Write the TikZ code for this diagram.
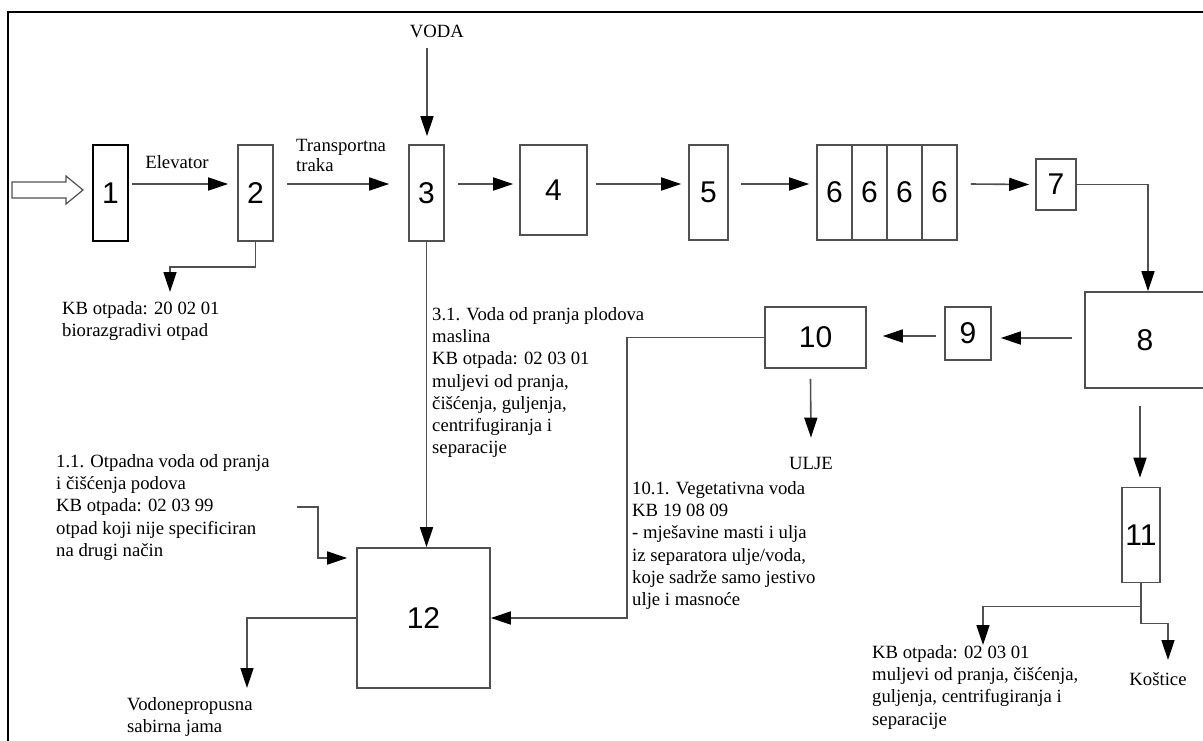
\documentclass[tikz,border=0pt]{standalone}
\usepackage{fontspec}
\setmainfont{Liberation Serif}
\newfontfamily\numfont{Liberation Sans}
\usetikzlibrary{arrows.meta}
\definecolor{linegray}{RGB}{80,80,80}
\begin{document}
\begin{tikzpicture}[x=1pt,y=-1pt,
  box/.style={draw=linegray, line width=1.6pt, inner sep=0pt, font=\numfont\fontsize{30}{32}\selectfont},
  con/.style={draw=linegray, line width=1.6pt, -{Triangle[length=20pt,width=13pt,color=black]}},
  txt/.style={inner sep=0pt, font=\fontsize{18.7}{22.3}\selectfont},
  lbl/.style={txt, align=left, anchor=north west},
]
\useasboundingbox (0,0) rectangle (1203,740);
% frame
\draw[line width=2.6pt] (8,760) -- (8,12) -- (1215,12);

% boxes
\node[box, draw=black, line width=2.2pt, minimum width=35pt, minimum height=96pt] (b1) at (110.5,193) {1};
\node[box, minimum width=35pt, minimum height=96pt] (b2) at (255.5,193) {2};
\node[box, minimum width=35pt, minimum height=96pt] (b3) at (426.5,193) {3};
\node[box, minimum width=67pt, minimum height=90pt] (b4) at (553.5,190) {4};
\node[box, minimum width=39pt, minimum height=95pt] (b5) at (708.5,192.5) {5};
\node[box, minimum width=35pt, minimum height=95pt] (b6a) at (834.5,192.5) {6};
\node[box, minimum width=35pt, minimum height=95pt] (b6b) at (869.5,192.5) {6};
\node[box, minimum width=35pt, minimum height=95pt] (b6c) at (904.5,192.5) {6};
\node[box, minimum width=35pt, minimum height=95pt] (b6d) at (939.5,192.5) {6};
\node[box, minimum width=40pt, minimum height=51pt] (b7) at (1056,184.5) {7};
\node[box, minimum width=120pt, minimum height=96pt] (b8) at (1145,340) {8};
\node[box, minimum width=46pt, minimum height=53pt] (b9) at (968,333.5) {9};
\node[box, minimum width=101pt, minimum height=61pt] (b10) at (815.5,337.5) {10};
\node[box, minimum width=38pt, minimum height=95pt] (b11) at (1141,535) {11};
\node[box, minimum width=133pt, minimum height=140pt] (b12) at (423.5,618) {12};

% texts
\node[txt] (voda) at (437,31) {VODA};
\node[txt] (elev) at (177,162) {Elevator};
\node[lbl] (traka) at (296,139) {Transportna\\[-2pt]traka};
\node[lbl] (kb1) at (62,301) {KB otpada: 20 02 01\\biorazgradivi otpad};
\node[lbl] (t31) at (432,307) {3.1. Voda od pranja plodova\\maslina\\KB otpada: 02 03 01\\muljevi od pranja,\\čišćenja, guljenja,\\centrifugiranja i\\separacije};
\node[lbl] (t11) at (56,454) {1.1. Otpadna voda od pranja\\i čišćenja podova\\KB otpada: 02 03 99\\otpad koji nije specificiran\\na drugi način};
\node[lbl] (t101) at (632,481) {10.1. Vegetativna voda\\KB 19 08 09\\- mješavine masti i ulja\\iz separatora ulje/voda,\\koje sadrže samo jestivo\\ulje i masnoće};
\node[txt] (ulje) at (811,463) {ULJE};
\node[lbl] (kb2) at (872,645) {KB otpada: 02 03 01\\muljevi od pranja, čišćenja,\\guljenja, centrifugiranja i\\separacije};
\node[txt] (kost) at (1158,679) {Koštice};
\node[lbl] (sump) at (127,697) {Vodonepropusna\\sabirna jama};

% free ends
\coordinate (vodaend) at (427,48);
\coordinate (kb1in) at (170,292);
\coordinate (t11out) at (297,507);
\coordinate (sumpin) at (247,688);
\coordinate (kb2in) at (983,645);
\coordinate (kosin) at (1168,660);

% hollow input arrow
\draw[draw=linegray, line width=1.2pt, fill=white] (12,182) -- (66,182) -- (66,176) -- (83,190) -- (66,204) -- (66,198) -- (12,198) -- cycle;

% connectors
\draw[con] ([shift={(3,-9)}]b1.east) -- ([shift={(-9,-9)}]b2.west);
\draw[con] ([shift={(13,-9)}]b2.east) -- ([shift={(-19,-9)}]b3.west);
\draw[con] ([shift={(13,-9)}]b3.east) -- ([shift={(-6,-6)}]b4.west);
\draw[con] ([shift={(8,-6)}]b4.east) -- ([shift={(-7,-8.5)}]b5.west);
\draw[con] ([shift={(12,-8.5)}]b5.east) -- ([shift={(-7,-8.5)}]b6a.west);
\draw[con] ([shift={(13,-8.5)}]b6d.east) -- ([shift={(-6,0)}]b7.west);
\draw[con] (b7.east) -| ([shift={(3,0)}]b8.north);
\draw[con] (vodaend) -- ([shift={(0.5,-8)}]b3.north);
\draw[con] (b2.south) -- ++(0,25) -| (kb1in);
\draw[con] (b3.south) -- (b3.south |- b12.north);
\draw[con] (t11out) -- ++(21,0) |- ([shift={(-9,-60)}]b12.west);
\draw[con] (b10.west) -- ++(-137,0) |- (b12.east);
\draw[con] (b12.west) -| (sumpin);
\draw[con] ([shift={(-12,-2)}]b8.west) -- ([shift={(9,4.5)}]b9.east);
\draw[con] ([shift={(-8,2.5)}]b9.west) -- ([shift={(16,-1.5)}]b10.east);
\draw[con] ([shift={(-5,10)}]b10.south) -- ([shift={(0,-19)}]ulje.north);
\draw[con] ([shift={(-5,17)}]b8.south) -- ([shift={(-1,-9)}]b11.north);
\draw[con] (b11.south) -- ++(0,23) coordinate (split) -| (kb2in);
\draw[con] (split) -- ++(0,17) -| (kosin);
\end{tikzpicture}
\end{document}
